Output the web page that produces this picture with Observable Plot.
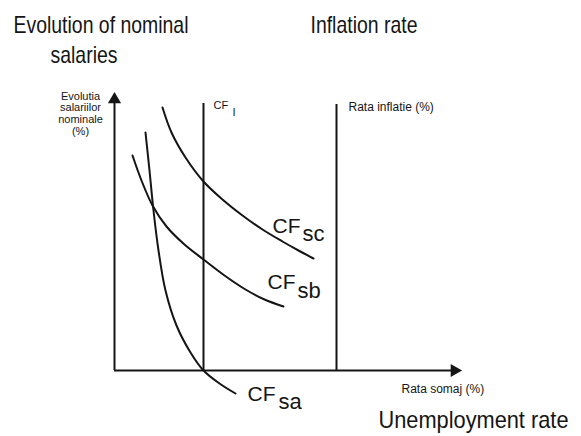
<!DOCTYPE html>
<html>
<head>
<meta charset="utf-8">
<script src="https://cdn.jsdelivr.net/npm/d3@7"></script>
<script src="https://cdn.jsdelivr.net/npm/@observablehq/plot@0.6"></script>
<style>
  html, body { margin: 0; padding: 0; background: #fff; }
  #chart svg { display: block; }
</style>
</head>
<body>
<div id="chart"></div>
<script>
// Conceptual diagram: x = unemployment rate, y = evolution of nominal salaries (arbitrary units)
const xAxisExtent = [0, 34.7];
const yAxisExtent = [0, 27.8];

// vertical lines: CF_I and inflation rate axis
const verticalX = [8.9, 22.2];
const verticalTop = [26.7, 26.6];

// curves [x, y]
const cfSc = [[4.8,26.3],[5.7,23.8],[7.1,21.3],[8.9,18.9],[10.8,17.1],[12.8,15.5],[14.8,14.1],[16.8,12.9],[18.4,12.0],[19.9,11.2]];
const cfSb = [[1.8,21.5],[2.7,19.0],[3.8,16.5],[5.2,14.4],[7.0,12.6],[8.9,11.1],[11.0,9.5],[13.1,8.1],[15.0,7.1],[16.9,6.4]];
const cfSa = [[3.1,23.8],[3.5,20.0],[3.9,16.0],[4.4,12.0],[5.1,8.0],[6.2,4.5],[7.6,1.8],[8.9,0],[10.5,-1.3],[12.1,-2.3]];

// curve labels: main text, subscript
const curveLabels = [
  {main: "CF", sub: "sc", x: 15.8, y: 13.8, sx: 18.8, sy: 13.0},
  {main: "CF", sub: "sb", x: 15.3, y: 8.2,  sx: 18.3, sy: 7.3},
  {main: "CF", sub: "sa", x: 13.3, y: -3.0, sx: 16.4, sy: -3.8}
];

const titleLabels = [
  {text: "Evolution of nominal", x: -10.1, y: 33.8, len: 175},
  {text: "salaries", x: -6.4, y: 30.8, len: 67},
  {text: "Inflation rate", x: 19.6, y: 33.8, len: 107},
  {text: "Unemployment rate", x: 26.4, y: -5.7, len: 190}
];
const smallLabels = [
  {text: "Rata somaj (%)", x: 28.7, y: -2.2},
  {text: "Rata inflatie (%)", x: 23.4, y: 26.0}
];
const cfILabel = [
  {text: "CF", x: 9.9, y: 26.2},
  {text: "I", x: 11.8, y: 25.5}
];
const yAxisLabel = [{text: "Evolutia\nsalariilor\nnominale\n(%)", x: -3.4, y: 23.6}];

const ink = "#151515";
const sans = "'Liberation Sans', Arial, sans-serif";

const curves = [cfSc, cfSb, cfSa];

const chart = Plot.plot({
  width: 581,
  height: 436,
  margin: 0,
  x: {domain: [-11.4, 46.7], axis: null},
  y: {domain: [-6.6, 37.0], axis: null},
  marks: [
    // axes lines
    Plot.ruleX([0], {y1: yAxisExtent[0], y2: yAxisExtent[1] - 0.8, stroke: ink, strokeWidth: 2}),
    Plot.ruleY([0], {x1: xAxisExtent[0], x2: xAxisExtent[1] - 0.8, stroke: ink, strokeWidth: 2}),
    // arrow heads
    Plot.dot([[0, yAxisExtent[1]]], {x: d => d[0], y: d => d[1], symbol: "triangle", r: 4.9, fill: ink, stroke: "none", dy: 7}),
    Plot.dot([[xAxisExtent[1], 0]], {x: d => d[0], y: d => d[1], symbol: "triangle", r: 4.9, fill: ink, stroke: "none", rotate: 90, dx: -7}),
    // vertical lines
    Plot.ruleX(verticalX.map((x, i) => ({x, top: verticalTop[i]})), {x: "x", y1: 0, y2: "top", stroke: ink, strokeWidth: 2}),
    // curves
    ...curves.map(c => Plot.line(c, {x: d => d[0], y: d => d[1], curve: "catmull-rom", stroke: ink, strokeWidth: 2})),
    // curve labels
    Plot.text(curveLabels, {x: "x", y: "y", text: "main", textAnchor: "start", lineAnchor: "bottom", fontSize: 21, fontFamily: sans, fill: ink}),
    Plot.text(curveLabels, {x: "sx", y: "sy", text: "sub", textAnchor: "start", lineAnchor: "bottom", fontSize: 22, fontFamily: sans, fill: ink}),
    // titles
    Plot.text(titleLabels, {x: "x", y: "y", text: "text", textAnchor: "start", lineAnchor: "bottom", fontSize: 24, fontFamily: sans, fill: ink}),
    Plot.text(smallLabels, {x: "x", y: "y", text: "text", textAnchor: "start", lineAnchor: "bottom", fontSize: 12, fontFamily: sans, fill: ink}),
    Plot.text(cfILabel, {x: "x", y: "y", text: "text", textAnchor: "start", lineAnchor: "bottom", fontSize: 11, fontFamily: sans, fill: ink}),
    Plot.text(yAxisLabel, {x: "x", y: "y", text: "text", textAnchor: "middle", lineAnchor: "bottom", lineHeight: 1.05, fontSize: 11, fontFamily: sans, fill: ink})
  ]
});

// condense the headline texts (narrow typeface look)
const lenByText = new Map(titleLabels.map(d => [d.text, d.len]));
d3.select(chart).selectAll("text").each(function () {
  const t = this.textContent;
  if (lenByText.has(t) && !this.querySelector("tspan")) {
    this.setAttribute("textLength", lenByText.get(t));
    this.setAttribute("lengthAdjust", "spacingAndGlyphs");
  }
});

document.getElementById("chart").appendChild(chart);
</script>
</body>
</html>
